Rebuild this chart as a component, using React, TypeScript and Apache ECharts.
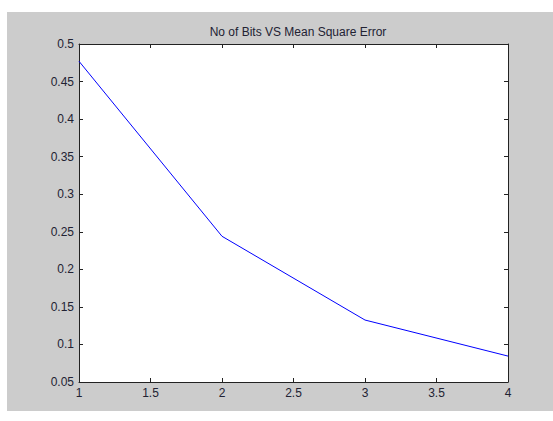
import React, { useEffect, useRef } from "react";
import * as echarts from "echarts";

const bits = [1, 2, 3, 4];
const mse = [0.477, 0.244, 0.1325, 0.0845];
const xTicks = [1, 1.5, 2, 2.5, 3, 3.5, 4];
const yTicks = [0.05, 0.1, 0.15, 0.2, 0.25, 0.3, 0.35, 0.4, 0.45, 0.5];
const title = "No of Bits VS Mean Square Error";

export default function App() {
  const ref = useRef<HTMLDivElement>(null);
  useEffect(() => {
    document.body.style.margin = "0";
    const chart = echarts.init(ref.current!, undefined, { renderer: "svg" });
    const font = "'Liberation Sans', Arial, sans-serif";
    const labelStyle = { color: "#222233", fontSize: 12, fontFamily: font };
    const axisLine = { show: true, lineStyle: { color: "#222", width: 1 } };
    chart.setOption({
      animation: false,
      backgroundColor: "#ffffff",
      graphic: [
        {
          type: "rect",
          z: -10,
          shape: { x: 7, y: 12, width: 546, height: 399 },
          style: { fill: "#cccccc" },
          silent: true,
        },
      ],
      title: {
        text: title,
        left: 293,
        textAlign: "center",
        top: 21,
        textStyle: { fontSize: 12, fontWeight: "normal", color: "#222233", fontFamily: font },
      },
      grid: { left: 79, top: 44, right: 45, bottom: 39, show: true, backgroundColor: "#ffffff", borderWidth: 0 },
      xAxis: [
        {
          type: "value",
          min: 1,
          max: 4,
          interval: 0.5,
          position: "bottom",
          axisLine,
          axisTick: { show: true, inside: true, length: 4, lineStyle: { color: "#222" } },
          axisLabel: { ...labelStyle, margin: 5, formatter: (v: number) => (xTicks.includes(v) ? String(v) : "") },
          splitLine: { show: false },
        },
        {
          type: "value",
          min: 1,
          max: 4,
          interval: 0.5,
          position: "top",
          axisLine,
          axisTick: { show: true, inside: true, length: 4, lineStyle: { color: "#222" } },
          axisLabel: { show: false },
          splitLine: { show: false },
        },
      ],
      yAxis: [
        {
          type: "value",
          min: 0.05,
          max: 0.5,
          interval: 0.05,
          position: "left",
          axisLine,
          axisTick: { show: true, inside: true, length: 4, lineStyle: { color: "#222" } },
          axisLabel: {
            ...labelStyle,
            margin: 5,
            formatter: (v: number) => {
              const r = Math.round(v * 100) / 100;
              return yTicks.includes(r) ? String(r) : "";
            },
          },
          splitLine: { show: false },
        },
        {
          type: "value",
          min: 0.05,
          max: 0.5,
          interval: 0.05,
          position: "right",
          axisLine,
          axisTick: { show: true, inside: true, length: 4, lineStyle: { color: "#222" } },
          axisLabel: { show: false },
          splitLine: { show: false },
        },
      ],
      series: [
        {
          type: "line",
          data: bits.map((b, i) => [b, mse[i]]),
          showSymbol: false,
          symbol: "none",
          lineStyle: { color: "#0000ff", width: 1 },
          xAxisIndex: 0,
          yAxisIndex: 0,
        },
      ],
    });
    return () => chart.dispose();
  }, []);
  return <div ref={ref} style={{ width: 553, height: 421 }} />;
}
